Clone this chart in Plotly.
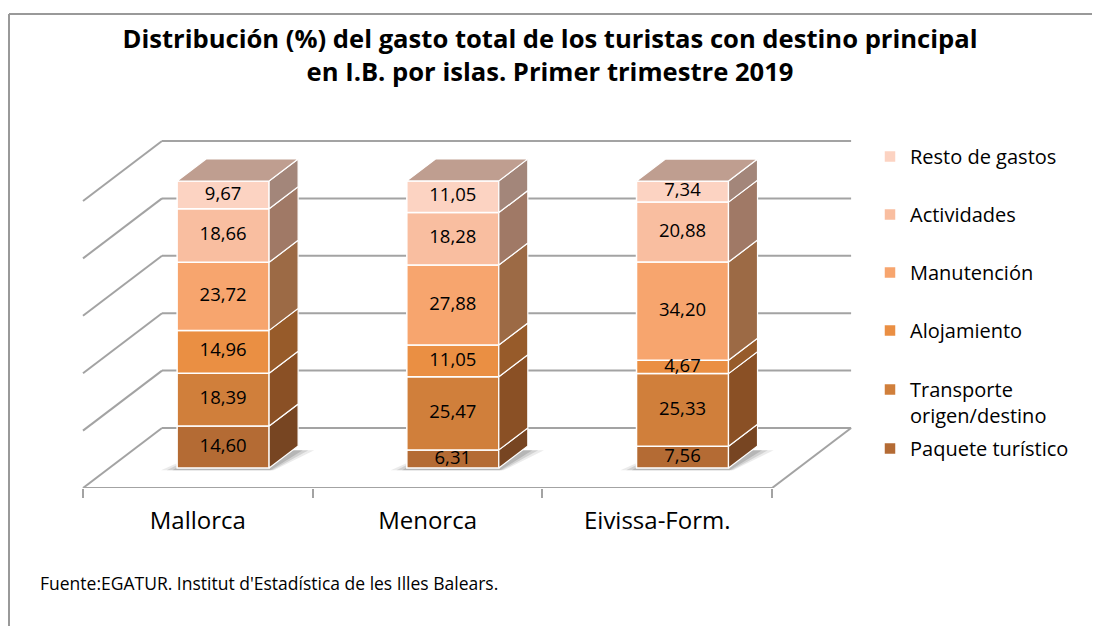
import plotly.graph_objects as go

# ---------------- data ----------------
categories = ["Mallorca", "Menorca", "Eivissa-Form."]
series_names = ["Paquete turístico", "Transporte<br>origen/destino", "Alojamiento",
                "Manutención", "Actividades", "Resto de gastos"]
paquete = [14.60, 6.31, 7.56]
transporte = [18.39, 25.47, 25.33]
alojamiento = [14.96, 11.05, 4.67]
manutencion = [23.72, 27.88, 34.20]
actividades = [18.66, 18.28, 20.88]
resto = [9.67, 11.05, 7.34]
grid_values = [0, 20, 40, 60, 80, 100]
title_text = ("<b>Distribución (%) del gasto total de los turistas con destino principal"
              "<br>en I.B. por islas. Primer trimestre 2019</b>")
source_text = "Fuente:EGATUR. Institut d'Estadística de les Illes Balears."

series_values = [paquete, transporte, alojamiento, manutencion, actividades, resto]

# ---------------- style ----------------
front_colors = ["#B46B34", "#D07F3B", "#EA8F43", "#F7A56E", "#F9BEA0", "#FCD3C2"]
side_colors = ["#774522", "#8A5025", "#975B2A", "#9C6A45", "#A07966", "#A3867A"]
top_color = "#BF9E90"
line_gray = "#A3A3A3"

W, H = 1100, 626
OFF = 8                                   # page body margin
ML, MT = 60 - OFF, 120 - OFF              # plot area top-left (figure px)
PLOT_R, PLOT_B = 870 - OFF, 488 - OFF     # plot area right / bottom (figure px)
MR, MB = W - PLOT_R, H - PLOT_B
PW, PH = W - ML - MR, H - MT - MB
CAT_PX = 229.7           # px per category unit
Y_PX = 2.87              # px per percent unit
X0_PX = 83 - OFF         # figure pixel of x = 0
xmin = (ML - X0_PX) / CAT_PX
xmax = xmin + PW / CAT_PX
ymax = PH / Y_PX

# 3D projection offsets (in data units)
DX, DY = 79 / CAT_PX, 60 / Y_PX          # full depth of the floor
FX, FY = 0.11, 20 / Y_PX                  # front face of the bars
BX, BY = 29 / CAT_PX, 22 / Y_PX          # depth of the bars
BW = 92 / CAT_PX                          # bar width

def fmt(v):
    return f"{v:.2f}".replace(".", ",")

def ppx(sx):   # screen px -> paper
    return (sx - OFF - ML) / PW

def ppy(sy):
    return (H - MB - (sy - OFF)) / PH

fig = go.Figure()
shapes = []

# frame
shapes.append(dict(type="line", xref="paper", yref="paper", x0=ppx(9), x1=ppx(1110),
                   y0=ppy(14), y1=ppy(14), line=dict(color="#999999", width=2), layer="below"))
shapes.append(dict(type="line", xref="paper", yref="paper", x0=ppx(9), x1=ppx(9),
                   y0=ppy(14), y1=ppy(640), line=dict(color="#999999", width=2), layer="below"))

ncat = len(categories)
# back wall gridlines and side wall diagonals
for v in grid_values:
    shapes.append(dict(type="line", xref="x", yref="y", x0=DX, x1=ncat + DX, y0=v + DY, y1=v + DY,
                       line=dict(color=line_gray, width=2), layer="below"))
    shapes.append(dict(type="line", xref="x", yref="y", x0=0, x1=DX, y0=v, y1=v + DY,
                       line=dict(color=line_gray, width=2), layer="below"))
# floor
shapes.append(dict(type="line", xref="x", yref="y", x0=0, x1=ncat, y0=0, y1=0,
                   line=dict(color=line_gray, width=2), layer="below"))
shapes.append(dict(type="line", xref="x", yref="y", x0=ncat, x1=ncat + DX, y0=0, y1=DY,
                   line=dict(color=line_gray, width=2), layer="below"))

centers = [i + 0.5 + FX for i in range(ncat)]

# shadows
for c in centers:
    xl, xr = c - BW / 2, c + BW / 2
    for grow, alpha in [(0.07, 0.10), (0.045, 0.14), (0.02, 0.18)]:
        path = (f"M {xl - grow},{FY - 0.8} L {xr + grow * 0.3},{FY - 0.8} "
                f"L {xr + BX + grow},{FY + BY - 1.5} L {xl + BX},{FY + BY - 1.5} Z")
        shapes.append(dict(type="path", xref="x", yref="y", path=path,
                           fillcolor=f"rgba(60,60,60,{alpha})", line=dict(width=0), layer="below"))

# front faces (bars)
cum = [FY] * ncat
bases = []
for s, vals in enumerate(series_values):
    bases.append(list(cum))
    fig.add_trace(go.Bar(
        x=centers, y=vals, base=list(cum), width=BW,
        name=series_names[s],
        marker=dict(color=front_colors[s], line=dict(color="white", width=1.5)),
        legend="legend" if s == 0 else f"legend{s + 1}",
        hoverinfo="skip",
    ))
    cum = [cum[i] + vals[i] for i in range(ncat)]

# side faces
for s, vals in enumerate(series_values):
    for i, c in enumerate(centers):
        xr = c + BW / 2
        y0 = bases[s][i]
        y1 = y0 + vals[i]
        fig.add_trace(go.Scatter(
            x=[xr, xr + BX, xr + BX, xr, xr], y=[y0, y0 + BY, y1 + BY, y1, y0],
            mode="lines", fill="toself", fillcolor=side_colors[s],
            line=dict(color="white", width=1.2), showlegend=False, hoverinfo="skip"))

# top faces
for i, c in enumerate(centers):
    xl, xr = c - BW / 2, c + BW / 2
    yt = cum[i]
    fig.add_trace(go.Scatter(
        x=[xl, xr, xr + BX, xl + BX, xl], y=[yt, yt, yt + BY, yt + BY, yt],
        mode="lines", fill="toself", fillcolor=top_color,
        line=dict(color="white", width=1.2), showlegend=False, hoverinfo="skip"))

# data labels
lx, ly, lt = [], [], []
for s, vals in enumerate(series_values):
    for i, c in enumerate(centers):
        lx.append(c)
        ly.append(bases[s][i] + vals[i] / 2)
        lt.append(fmt(vals[i]))
fig.add_trace(go.Scatter(x=lx, y=ly, text=lt, mode="text",
                         textfont=dict(family="Open Sans", size=18.5, color="black"),
                         showlegend=False, hoverinfo="skip", cliponaxis=False))

# legends (one per series, stacked top to bottom in reverse order)
legend_rows_px = [447, 388, 329, 271, 213, 155]
layout_legends = {}
for s in range(len(series_values)):
    key = "legend" if s == 0 else f"legend{s + 1}"
    layout_legends[key] = dict(
        x=ppx(870), xanchor="left",
        y=ppy(legend_rows_px[s] - 18), yanchor="top",
        valign="top",
        font=dict(family="Open Sans", size=20, color="black"),
        bgcolor="rgba(0,0,0,0)", borderwidth=0,
    )

fig.update_layout(
    width=W, height=H,
    margin=dict(l=ML, r=MR, t=MT, b=MB),
    paper_bgcolor="white", plot_bgcolor="white",
    barmode="overlay",
    shapes=shapes,
    showlegend=True,
    title=dict(text=title_text, x=(550 - OFF) / W, xref="container", xanchor="center",
               y=1 - 40 / H, yref="container", yanchor="middle",
               font=dict(family="Open Sans", size=25.6, color="black")),
    xaxis=dict(range=[xmin, xmax], tickmode="array", tickvals=[i + 0.5 for i in range(ncat)],
               ticktext=categories, ticks="", showgrid=False, zeroline=False, showline=False,
               tickfont=dict(family="Open Sans", size=24, color="black"),
               ticklabelstandoff=16,
               minor=dict(tickmode="array", tickvals=list(range(ncat + 1)), ticks="outside",
                          ticklen=9, tickwidth=2, tickcolor=line_gray, showgrid=False),
               fixedrange=True),
    yaxis=dict(range=[0, ymax], visible=False, fixedrange=True),
    annotations=[dict(text=source_text, xref="paper", yref="paper", x=ppx(38), y=ppy(583),
                      xanchor="left", yanchor="middle", showarrow=False,
                      font=dict(family="Open Sans", size=17.5, color="black"))],
    **layout_legends,
)

fig.write_html("out.html")
